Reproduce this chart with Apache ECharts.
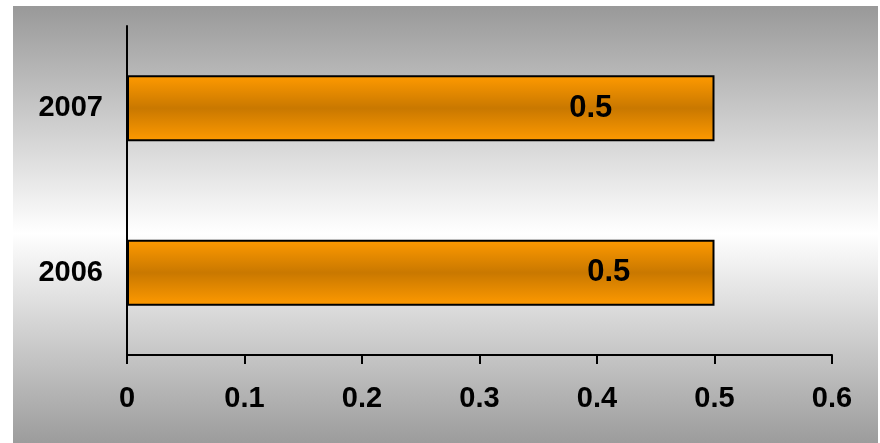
<!DOCTYPE html>
<html>
<head>
<meta charset="utf-8">
<script src="https://cdn.jsdelivr.net/npm/echarts@6/dist/echarts.min.js"></script>
<style>html,body{margin:0;padding:0;background:#fff}#c{width:880px;height:443px}</style>
</head>
<body>
<div id="c"></div>
<script>
const categories = ['2006', '2007'];
const values = [0.5, 0.5];
const xTicks = [0, 0.1, 0.2, 0.3, 0.4, 0.5, 0.6];

const labelOffsets = [[188, 0], [170, 0]];
const FONT = '"Liberation Sans", Arial, sans-serif';

const chart = echarts.init(document.getElementById('c'));
chart.setOption({
  animation: false,
  graphic: [{
    type: 'rect', z: -10, silent: true,
    shape: { x: 13, y: 6, width: 865, height: 437 },
    style: {
      fill: new echarts.graphic.LinearGradient(0, 0, 0, 1, [
        { offset: 0, color: '#999999' },
        { offset: 0.52, color: '#ffffff' },
        { offset: 1, color: '#9c9c9c' }
      ])
    }
  }],
  grid: { left: 127, right: 48, top: 26, bottom: 88, containLabel: false },
  xAxis: {
    type: 'value', min: 0, max: 0.6, interval: 0.1,
    axisLine: { show: true, lineStyle: { color: '#000', width: 2 } },
    axisTick: { show: true, length: 9, lineStyle: { color: '#000', width: 2 } },
    splitLine: { show: false },
    axisLabel: {
      margin: 29, color: '#000', fontFamily: FONT, fontWeight: 'bold', fontSize: 29,
      formatter: v => xTicks.includes(Math.round(v * 10) / 10) ? String(Math.round(v * 10) / 10) : ''
    }
  },
  yAxis: {
    type: 'category', data: categories,
    axisLine: { show: true, lineStyle: { color: '#000', width: 2 } },
    axisTick: { show: false },
    axisLabel: { margin: 24, color: '#000', fontFamily: FONT, fontWeight: 'bold', fontSize: 29 }
  },
  series: [{
    type: 'bar',
    barWidth: '40%',
    data: values.map((v, i) => ({
      value: v,
      label: { offset: labelOffsets[i] }
    })),
    itemStyle: {
      borderColor: '#000', borderWidth: 2,
      color: new echarts.graphic.LinearGradient(0, 0, 0, 1, [
        { offset: 0, color: '#ff9a00' },
        { offset: 0.5, color: '#c97800' },
        { offset: 1, color: '#ff9a00' }
      ])
    },
    label: {
      show: true, position: 'inside', color: '#000',
      fontFamily: FONT, fontWeight: 'bold', fontSize: 31,
      formatter: p => String(p.value)
    }
  }]
});
</script>
</body>
</html>
